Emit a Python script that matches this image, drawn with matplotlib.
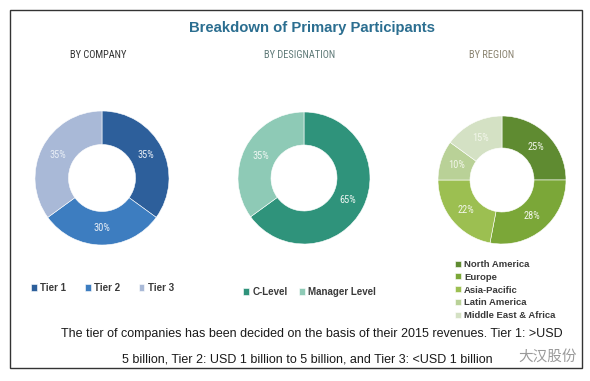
import matplotlib
matplotlib.use('Agg')
import matplotlib.pyplot as plt
from matplotlib.patches import Rectangle

# data
company_labels = ['Tier 1', 'Tier 2', 'Tier 3']
company_values = [35, 30, 35]
company_colors = ['#2d5f9b', '#3d7dc0', '#a9b9d7']

designation_labels = ['C-Level', 'Manager Level']
designation_values = [65, 35]
designation_colors = ['#2f937b', '#8ecab6']

region_labels = ['North America', 'Europe', 'Asia-Pacific', 'Latin America', 'Middle East & Africa']
region_values = [25, 28, 22, 10, 15]
region_colors = ['#5f8b31', '#7ba738', '#9cbf51', '#b9d197', '#d4e1c4']

note_line1 = 'The tier of companies has been decided on the basis of their 2015 revenues. Tier 1: >USD'
note_line2 = '5 billion, Tier 2: USD 1 billion to 5 billion, and Tier 3: <USD 1 billion'

W, H = 590, 381
fig = plt.figure(figsize=(W / 100, H / 100), dpi=100)
fig.patch.set_facecolor('white')

def fx(x):
    return x / W

def fy(y):
    return 1 - y / H

# outer frame
fig.add_artist(Rectangle((fx(10), fy(368)), fx(572), (368 - 10) / H, transform=fig.transFigure,
                         fill=False, edgecolor='#333333', linewidth=1.0))

fig.text(fx(312), fy(28), 'Breakdown of Primary Participants', ha='center', va='center',
         fontsize=10.7, fontweight='bold', color='#2b6e90', family='Liberation Sans')

sub_font = 'Roboto Condensed'
fig.text(fx(98), fy(55), 'BY COMPANY', ha='center', va='center', fontsize=7.5, color='#333333', family=sub_font)
fig.text(fx(300), fy(55), 'BY DESIGNATION', ha='center', va='center', fontsize=7.5, color='#5f7a78', family=sub_font)
fig.text(fx(492), fy(55), 'BY REGION', ha='center', va='center', fontsize=7.5, color='#8a8370', family=sub_font)


def donut(cx, cy, r, values, colors, txt_color):
    ax = fig.add_axes([fx(cx - r), fy(cy + r), 2 * r / W, 2 * r / H])
    wedges, _, autotexts = ax.pie(values, colors=colors, startangle=90, counterclock=False,
                                  autopct=lambda p: '%.0f%%' % p, pctdistance=0.74,
                                  wedgeprops=dict(width=0.5, edgecolor='white', linewidth=0.4))
    for t in autotexts:
        t.set_color(txt_color)
        t.set_fontsize(7.5)
        t.set_family(sub_font)
    ax.set_xlim(-1, 1)
    ax.set_ylim(-1, 1)
    ax.set_aspect('equal')
    ax.axis('off')
    return wedges


w1 = donut(102, 178, 67, company_values, company_colors, '#e8eef6')
w2 = donut(304, 178, 66, designation_values, designation_colors, '#eef6f2')
w3 = donut(502, 180, 64, region_values, region_colors, '#f2f6ea')

leg_kw = dict(frameon=False, handlelength=0.6, handleheight=0.6, handletextpad=0.35,
              prop={'family': 'Liberation Sans', 'size': 7, 'weight': 'bold'}, labelcolor='#3a3a3a',
              borderaxespad=0, borderpad=0)

fig.legend(w1, company_labels, loc='center left', bbox_to_anchor=(fx(31), fy(288)), ncol=3,
           columnspacing=1.9, **leg_kw)
fig.legend(w2, designation_labels, loc='center left', bbox_to_anchor=(fx(243), fy(292)), ncol=2,
           columnspacing=1.2, **leg_kw)
leg_kw['prop'] = {'family': 'Liberation Sans', 'size': 6.8, 'weight': 'bold'}
fig.legend(w3, region_labels, loc='upper left', bbox_to_anchor=(fx(455), fy(260)), ncol=1,
           labelspacing=0.4, **leg_kw)

fig.text(fx(563), fy(334), note_line1, ha='right', va='center', fontsize=9, color='#1a1a1a',
         family='Liberation Sans')
fig.text(fx(122), fy(360), note_line2, ha='left', va='center', fontsize=9, color='#1a1a1a',
         family='Liberation Sans')
fig.text(fx(577), fy(357), '大汉股份', ha='right', va='center', fontsize=10.5, color='#9a9a9a',
         family=['Noto Sans CJK SC', 'DejaVu Sans'])

fig.savefig('out.png', dpi=100)
